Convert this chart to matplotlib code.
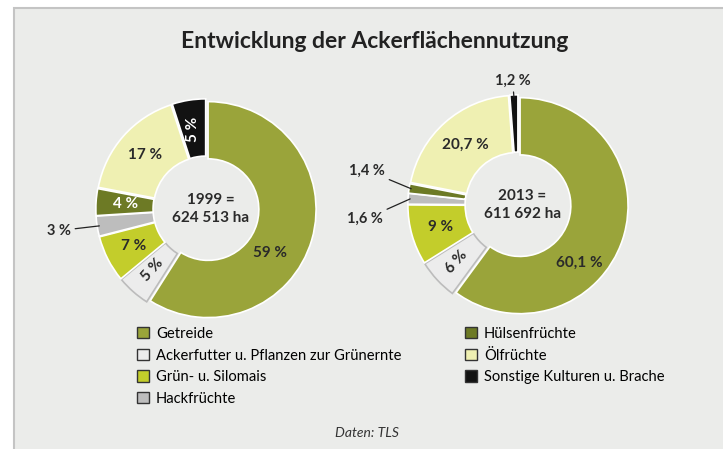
import numpy as np
import matplotlib
matplotlib.use("Agg")
import matplotlib.pyplot as plt
from matplotlib.patches import Rectangle, Patch

plt.rcParams['font.family'] = ['Lato', 'DejaVu Sans']

categories = ["Getreide", "Ackerfutter u. Pflanzen zur Grünernte", "Grün- u. Silomais",
              "Hackfrüchte", "Hülsenfrüchte", "Ölfrüchte", "Sonstige Kulturen u. Brache"]
share_1999 = [59, 5, 7, 3, 4, 17, 5]
share_2013 = [60.1, 6, 9, 1.6, 1.4, 20.7, 1.2]
labels_1999 = ["59 %", "5 %", "7 %", "3 %", "4 %", "17 %", "5 %"]
labels_2013 = ["60,1 %", "6 %", "9 %", "1,6 %", "1,4 %", "20,7 %", "1,2 %"]
totals = ["1999 =\n624 513 ha", "2013 =\n611 692 ha"]

colors = ["#9aa43a", "#ececec", "#c3cd2b", "#bdbdbd", "#6d7a25", "#eff0b2", "#121212"]
txt_col = ["#2a2a2a", "#2a2a2a", "#2a2a2a", "#2a2a2a", "white", "#2a2a2a", "white"]
BG = "#ebecea"
W, H = 723, 449

fig = plt.figure(figsize=(W / 100, H / 100), dpi=100)
bg = fig.add_axes([0, 0, 1, 1])
bg.set_xlim(0, W); bg.set_ylim(H, 0); bg.axis("off")
bg.add_patch(Rectangle((14, 8), W, H, facecolor=BG, edgecolor="#c4c4c4", lw=1.5))
bg.text(375, 42, "Entwicklung der Ackerflächennutzung", ha="center", va="center",
        fontsize=16.5, fontweight="bold", color="#222222")
bg.text(367, 433, "Daten: TLS", ha="center", va="center", fontsize=10,
        style="italic", color="#333333")


def donut(cx, cy, R, vals, labs, total, inside, outside, rots):
    ext = 1.25
    ax = fig.add_axes([(cx - ext * R) / W, (H - cy - ext * R) / H, 2 * ext * R / W, 2 * ext * R / H])
    ax.set_xlim(-ext, ext); ax.set_ylim(-ext, ext); ax.set_aspect("equal"); ax.axis("off")
    wedges, _ = ax.pie(vals, colors=colors, startangle=90, counterclock=False, radius=1.0,
                       explode=[0.02] * len(vals),
                       wedgeprops=dict(width=0.53, edgecolor="white", linewidth=1.2))
    wedges[1].set_edgecolor("#bcbcbc")
    cum = np.cumsum([0] + list(vals)) / sum(vals)
    for i, lab in enumerate(labs):
        mid = np.radians(90 - 360 * (cum[i] + cum[i + 1]) / 2)
        if i in outside:
            tx, ty, ha, va = outside[i]
            x0, y0 = np.cos(mid) * 1.0, np.sin(mid) * 1.0
            ax.annotate(lab, xy=(x0, y0), xytext=(tx, ty), ha=ha, va=va, fontsize=10.5,
                        fontweight="bold", color="#2a2a2a",
                        arrowprops=dict(arrowstyle="-", color="#222222", lw=0.9,
                                        shrinkA=1, shrinkB=0))
        else:
            r, da = inside.get(i, (0.75, 0))
            a = mid + np.radians(da)
            ax.text(r * np.cos(a), r * np.sin(a), lab, ha="center", va="center",
                    fontsize=11, fontweight="bold", color=txt_col[i], rotation=rots.get(i, 0))
    ax.text(0.04, 0, total, ha="center", va="center", fontsize=11, fontweight="bold",
            color="#2a2a2a", linespacing=1.3)
    return wedges


donut(206, 209, 108, share_1999, labels_1999, totals[0],
      inside={0: (0.72, -18)},
      outside={3: (-1.25, -0.2, "right", "center")},
      rots={1: 48, 6: 90})
donut(518, 205, 108, share_2013, labels_2013, totals[1],
      inside={0: (0.78, -25), 1: (0.78, 0), 5: (0.74, 0)},
      outside={3: (-1.25, -0.13, "right", "center"), 4: (-1.23, 0.32, "right", "center"),
               6: (-0.05, 1.15, "center", "center")},
      rots={1: 48})

handles = [Patch(facecolor=c, edgecolor="#333333", lw=1.0) for c in colors]
fig.legend(handles, categories, ncol=2, loc="upper left", bbox_to_anchor=(131 / W, 1 - 321 / H),
           frameon=False, fontsize=10.6, handlelength=0.8, handleheight=0.8, handletextpad=0.5,
           labelspacing=0.52, columnspacing=4.3, borderaxespad=0)

fig.savefig("out.png", dpi=100, facecolor="white")
